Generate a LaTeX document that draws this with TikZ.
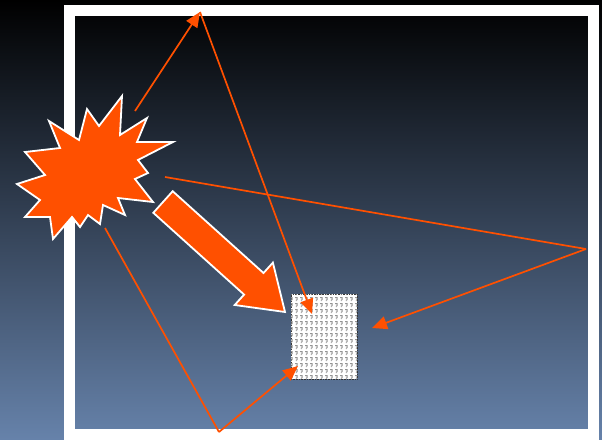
\documentclass[tikz,border=0pt]{standalone}
\usetikzlibrary{arrows.meta,patterns}

\definecolor{rayorange}{RGB}{255,80,0}
\definecolor{skytop}{RGB}{0,0,0}
\definecolor{skybottom}{RGB}{102,130,170}

% small glyph texture of the object
\pgfdeclarepatternformonly{tglyph}{\pgfpointorigin}{\pgfqpoint{5pt}{6pt}}{\pgfqpoint{5pt}{6pt}}{
  \pgfpathrectangle{\pgfqpoint{0pt}{4.6pt}}{\pgfqpoint{3.2pt}{1pt}}
  \pgfpathrectangle{\pgfqpoint{1.9pt}{2.2pt}}{\pgfqpoint{1.1pt}{2.6pt}}
  \pgfpathrectangle{\pgfqpoint{0.9pt}{1.0pt}}{\pgfqpoint{1.1pt}{1.6pt}}
  \pgfusepath{fill}}

\tikzset{
  ray/.style={draw=rayorange, line width=1.7pt},
  rayhead/.style={-{Triangle[length=15pt,width=13pt]}},
  wall/.style={draw=white, line width=11pt},
  blast/.style={fill=rayorange, draw=white, line width=1.8pt, line join=miter},
  target/.style={draw=black!80, densely dotted, line width=0.6pt, fill=white,
    postaction={pattern=tglyph, pattern color=gray!85},
    minimum width=66pt, minimum height=85pt, inner sep=0pt}
}

\begin{document}
\begin{tikzpicture}[x=1pt,y=-1pt]
    \useasboundingbox (0,0) rectangle (602,439);
    \shade[top color=skytop, bottom color=skybottom] (0,0) rectangle (602,439);

    % Room
    \draw[wall] (69,10.5) rectangle (593,434.5);

    % Source
    \draw[blast] (122,96) -- (99,126) -- (87,109) -- (79,140) -- (49,121)
        -- (60,148) -- (25,152) -- (45,175) -- (17,184) -- (40,200)
        -- (25,217) -- (50,217) -- (53,239) -- (72,217) -- (80,227)
        -- (88,215) -- (100,224) -- (103,205) -- (125,215) -- (118,198)
        -- (153,202) -- (135,179) -- (148,173) -- (138,160) -- (173,142)
        -- (137,142) -- (147,118) -- (120,135) -- cycle;

    % Direct light
    \draw[blast] (172.7,191.2) -- (263.5,273.0) -- (272.9,262.6) -- (285,312)
        -- (234.7,305.0) -- (244.1,294.6) -- (153.3,212.8) -- cycle;

    % Object
    \node[target] (box) at (324,336.5) {};

    % Points
    \coordinate (s1) at (135,111);
    \coordinate (s2) at (165,177);
    \coordinate (s3) at (105,228);
    \coordinate (ceil) at (200,12);
    \coordinate (side) at (586,249);
    \coordinate (floor) at (219,432);
    \coordinate (t1) at (312,314);
    \coordinate (t2) at (372,328);
    \coordinate (t3) at (298,366);

    % Rays
    \draw[ray, rayhead] (s1) -- (ceil);
    \draw[ray, rayhead] (ceil) -- (t1);

    \draw[ray] (s2) -- (side);
    \draw[ray, rayhead] (side) -- (t2);

    \draw[ray] (s3) -- (floor);
    \draw[ray, rayhead] (floor) -- (t3);
\end{tikzpicture}
\end{document}
